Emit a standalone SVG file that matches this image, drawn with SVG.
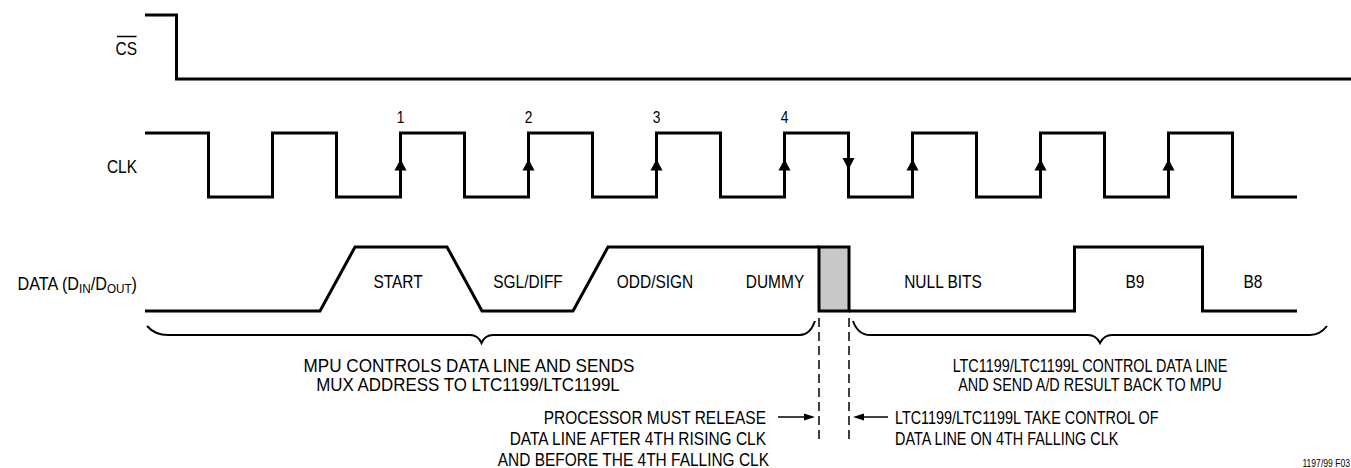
<svg xmlns="http://www.w3.org/2000/svg" width="1351" height="468" viewBox="0 0 1351 468">
<style>
.sig{fill:none;stroke:#000;stroke-width:3;stroke-linejoin:miter;stroke-linecap:butt}
.brace{fill:none;stroke:#000;stroke-width:2}
.dash{fill:none;stroke:#000;stroke-width:1.5;stroke-dasharray:9 5}
.ah{fill:#000;stroke:none}
.t{font-family:"Liberation Sans",Arial,sans-serif;font-size:18px;fill:#000}
.n{font-family:"Liberation Sans",Arial,sans-serif;font-size:16px;fill:#000}
.m{text-anchor:middle}
.e{text-anchor:end}
.sub{font-size:13px}
.small{font-family:"Liberation Sans",Arial,sans-serif;font-size:10px;fill:#000;text-anchor:end}
</style>
<rect width="1351" height="468" fill="#fff"/>
<g id="cs">
<path class="sig" d="M145,15 H176.5 V79 H1351"/>
<text class="t e" transform="translate(137 55) scale(0.86 1)">CS</text>
<line x1="117" y1="36.5" x2="136.5" y2="36.5" stroke="#000" stroke-width="1.5"/>
</g>
<g id="clk">
<path class="sig" d="M145,133 H208.5 V197 H272.5 V133 H336.5 V197 H400.5 V133 H464.5 V197 H528.5 V133 H592.5 V197 H656.5 V133 H720.5 V197 H784.5 V133 H848.5 V197 H912.5 V133 H976.5 V197 H1040.5 V133 H1104.5 V197 H1168.5 V133 H1232.5 V197 H1297"/>
<text class="t e" transform="translate(137 173) scale(0.86 1)">CLK</text>
<text class="n m" transform="translate(400.5 123) scale(0.86 1)">1</text>
<text class="n m" transform="translate(528.5 123) scale(0.86 1)">2</text>
<text class="n m" transform="translate(656.5 123) scale(0.86 1)">3</text>
<text class="n m" transform="translate(784.5 123) scale(0.86 1)">4</text>
<g id="clk-edges">
<polygon class="ah" points="400.5,159 394.5,170.5 406.5,170.5"/>
<polygon class="ah" points="528.5,159 522.5,170.5 534.5,170.5"/>
<polygon class="ah" points="656.5,159 650.5,170.5 662.5,170.5"/>
<polygon class="ah" points="784.5,159 778.5,170.5 790.5,170.5"/>
<polygon class="ah" points="848.5,169.5 842.5,158 854.5,158"/>
<polygon class="ah" points="912.5,159 906.5,170.5 918.5,170.5"/>
<polygon class="ah" points="1040.5,159 1034.5,170.5 1046.5,170.5"/>
<polygon class="ah" points="1168.5,159 1162.5,170.5 1174.5,170.5"/>
</g>
</g>
<g id="data">
<path class="sig" d="M145,311 H320 L355,247 H447 L482,311 H573 L608,247 H819"/>
<rect x="819" y="247" width="30" height="64" fill="#c8c8c8" stroke="#000" stroke-width="3"/>
<path class="sig" d="M849,311 H1074.5 V247 H1202.5 V311 H1297"/>
<text class="t e" transform="translate(137 290) scale(0.9 1)">DATA (D<tspan class="sub" dy="3">IN</tspan><tspan dy="-3">/D</tspan><tspan class="sub" dy="3">OUT</tspan><tspan dy="-3">)</tspan></text>
<text class="t m" transform="translate(398 288) scale(0.86 1)">START</text>
<text class="t m" transform="translate(528 288) scale(0.86 1)">SGL/DIFF</text>
<text class="t m" transform="translate(655 288) scale(0.86 1)">ODD/SIGN</text>
<text class="t m" transform="translate(775 288) scale(0.86 1)">DUMMY</text>
<text class="t m" transform="translate(943 288) scale(0.86 1)">NULL BITS</text>
<text class="t m" transform="translate(1135 288) scale(0.86 1)">B9</text>
<text class="t m" transform="translate(1253 288) scale(0.86 1)">B8</text>
</g>
<g id="mpu-brace">
<path class="brace" d="M147,326 Q155,335 168,335 H470 Q478,335 481.5,343 Q485,335 493,335 H800 Q810,335 815,321"/>
<text class="t m" transform="translate(469 372) scale(0.95 1)">MPU CONTROLS DATA LINE AND SENDS</text>
<text class="t m" transform="translate(468 391) scale(0.94 1)">MUX ADDRESS TO LTC1199/LTC1199L</text>
</g>
<g id="ltc-brace">
<path class="brace" d="M853,321 Q858,335 870,335 H1088 Q1096,335 1100,343 Q1104,335 1112,335 H1310 Q1320,335 1327,326"/>
<text class="t m" transform="translate(1090 372) scale(0.8 1)">LTC1199/LTC1199L CONTROL DATA LINE</text>
<text class="t m" transform="translate(1090 391) scale(0.8 1)">AND SEND A/D RESULT BACK TO MPU</text>
</g>
<g id="release-window">
<line class="dash" x1="819" y1="318" x2="819" y2="440"/>
<line class="dash" x1="849" y1="318" x2="849" y2="440"/>
</g>
<g id="processor-note">
<text class="t e" transform="translate(766 424) scale(0.86 1)">PROCESSOR MUST RELEASE</text>
<text class="t e" transform="translate(766 445) scale(0.86 1)">DATA LINE AFTER 4TH RISING CLK</text>
<text class="t e" transform="translate(769 466) scale(0.86 1)">AND BEFORE THE 4TH FALLING CLK</text>
</g>
<g id="ltc-note">
<text class="t" transform="translate(895 424) scale(0.8 1)">LTC1199/LTC1199L TAKE CONTROL OF</text>
<text class="t" transform="translate(895 445) scale(0.8 1)">DATA LINE ON 4TH FALLING CLK</text>
</g>
<g id="connectors">
<line x1="778" y1="417" x2="806" y2="417" stroke="#000" stroke-width="1.5"/>
<polygon class="ah" points="815,417 804,413.5 804,420.5"/>
<line x1="862" y1="417" x2="888" y2="417" stroke="#000" stroke-width="1.5"/>
<polygon class="ah" points="853,417 864,413.5 864,420.5"/>
</g>
<text class="small" transform="translate(1350 467) scale(0.86 1)">1197/99 F03</text>
</svg>
